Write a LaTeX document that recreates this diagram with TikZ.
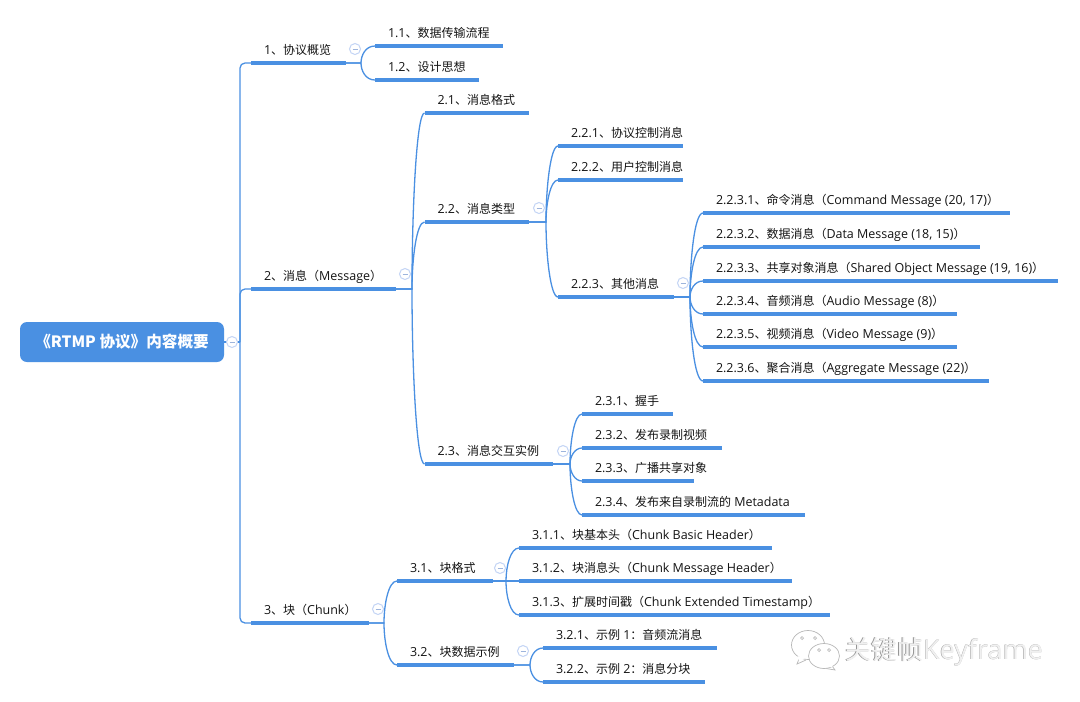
\documentclass[tikz,border=0pt]{standalone}
\usepackage{fontspec}
\setmainfont{Open Sans}[Scale=1.04]
\newfontfamily\cjkfam{Noto Sans CJK SC}
\newcommand{\zh}[1]{{\cjkfam #1}}
\usetikzlibrary{calc}
\definecolor{mapblue}{HTML}{4A90E2}
\definecolor{foldring}{HTML}{C3D4F5}
\definecolor{foldbar}{HTML}{9DB4DC}
\tikzset{
  x=1pt,y=-1pt,
  topic/.style={anchor=south west,inner xsep=0pt,inner ysep=0pt,outer sep=0pt,text height=9pt,text depth=9pt,font=\fontsize{12}{14}\selectfont,text=black!92},
  bar/.style={draw=mapblue,line width=3.6pt},
  link/.style={draw=mapblue,line width=1.3pt},
  fold/.style={circle,draw=foldring,line width=1pt,fill=white,minimum size=11pt,inner sep=0pt,
    path picture={\draw[foldbar,line width=.9pt] ([xshift=-2.5pt]path picture bounding box.center) -- ([xshift=2.5pt]path picture bounding box.center);}},
  rootbox/.style={fill=mapblue,rounded corners=7pt,text=white,font=\fontsize{15.6}{17}\selectfont\bfseries\cjkfam,minimum width=204pt,minimum height=40pt,inner sep=0pt},
  mark emboss/.style={font=\fontsize{26}{30}\selectfont,anchor=base west,inner sep=0pt},
  bubble/.style={draw=black!28,line width=.7pt,fill=white}
}
% name, bar x, bar end x, bar y, text
\newcommand{\topic}[5]{%
  \pgfmathsetmacro{\topicw}{#3-#2}%
  \node[topic] (#1) at (#2,#4) {\makebox[\topicw pt][l]{\hspace{13pt}#5}};
  \draw[bar] (#1.south west) -- (#1.south east);}
% parent, child, junction x
\newcommand{\conn}[3]{%
  \draw[link] (#1.south east) -- (#3,0 |- #1.south east) coordinate (J)
    .. controls ($(J)!0.45!(J |- #2.south west)$) and ([xshift=4.5pt]J |- #2.south west) .. (#2.south west);}
\begin{document}
\begin{tikzpicture}
\fill[white] (0,0) rectangle (1080,702);
\useasboundingbox (0,0) rectangle (1080,702);

\node[rootbox] (root) at (122,342) {《RTMP 协议》内容概要};

\topic{a}{251}{346}{63}{1\zh{、协议概览}}
\topic{b}{251}{396}{289}{2\zh{、消息（}Message\zh{）}}
\topic{c}{251}{369}{623}{3\zh{、块（}Chunk\zh{）}}

\topic{aa}{375}{503}{46}{1.1\zh{、数据传输流程}}
\topic{ab}{375}{479}{80}{1.2\zh{、设计思想}}

\topic{ba}{424.5}{529}{113}{2.1\zh{、消息格式}}
\topic{bb}{424.5}{529}{222}{2.2\zh{、消息类型}}
\topic{bc}{424.5}{553}{464}{2.3\zh{、消息交互实例}}

\topic{bba}{558}{683}{146}{2.2.1\zh{、协议控制消息}}
\topic{bbb}{558}{683}{180}{2.2.2\zh{、用户控制消息}}
\topic{bbc}{558}{674}{297}{2.2.3\zh{、其他消息}}

\topic{bbca}{703}{1010}{213}{2.2.3.1\zh{、命令消息（}Command Message (20, 17)\zh{）}}
\topic{bbcb}{703}{980}{247}{2.2.3.2\zh{、数据消息（}Data Message (18, 15)\zh{）}}
\topic{bbcc}{703}{1058}{281}{2.2.3.3\zh{、共享对象消息（}Shared Object Message (19, 16)\zh{）}}
\topic{bbcd}{703}{957}{314}{2.2.3.4\zh{、音频消息（}Audio Message (8)\zh{）}}
\topic{bbce}{703}{957}{347}{2.2.3.5\zh{、视频消息（}Video Message (9)\zh{）}}
\topic{bbcf}{703}{989}{381}{2.2.3.6\zh{、聚合消息（}Aggregate Message (22)\zh{）}}

\topic{bca}{582}{673}{414}{2.3.1\zh{、握手}}
\topic{bcb}{582}{722}{448}{2.3.2\zh{、发布录制视频}}
\topic{bcc}{582}{694}{481}{2.3.3\zh{、广播共享对象}}
\topic{bcd}{582}{805}{515}{2.3.4\zh{、发布来自录制流的}\ Metadata}

\topic{ca}{397}{493}{581}{3.1\zh{、块格式}}
\topic{cb}{397}{514}{665}{3.2\zh{、块数据示例}}

\topic{caa}{519}{772}{548}{3.1.1\zh{、块基本头（}Chunk Basic Header\zh{）}}
\topic{cab}{519}{792}{581}{3.1.2\zh{、块消息头（}Chunk Message Header\zh{）}}
\topic{cac}{519}{830}{615}{3.1.3\zh{、扩展时间戳（}Chunk Extended Timestamp\zh{）}}

\topic{cba}{543}{717}{648}{3.2.1\zh{、示例}\ 1\zh{：音频流消息}}
\topic{cbb}{543}{705}{682}{3.2.2\zh{、示例}\ 2\zh{：消息分块}}

% trunk
\draw[link] (root.east) -- (240,342);
\draw[link,rounded corners=5pt] (240,342) |- (a.south west);
\draw[link,rounded corners=5pt] (240,342) |- (b.south west);
\draw[link,rounded corners=5pt] (240,342) |- (c.south west);

\conn{a}{aa}{361}\conn{a}{ab}{361}
\conn{b}{ba}{412}\conn{b}{bb}{412}\conn{b}{bc}{412}
\conn{bb}{bba}{546}\conn{bb}{bbb}{546}\conn{bb}{bbc}{546}
\conn{bbc}{bbca}{690}\conn{bbc}{bbcb}{690}\conn{bbc}{bbcc}{690}
\conn{bbc}{bbcd}{690}\conn{bbc}{bbce}{690}\conn{bbc}{bbcf}{690}
\conn{bc}{bca}{570}\conn{bc}{bcb}{570}\conn{bc}{bcc}{570}\conn{bc}{bcd}{570}
\conn{c}{ca}{384}\conn{c}{cb}{384}
\conn{ca}{caa}{506}\conn{ca}{cab}{506}\conn{ca}{cac}{506}
\conn{cb}{cba}{530}\conn{cb}{cbb}{530}

% fold markers
\node[fold] (froot) at (232,342) {};
\node[fold] (fa) at (355,49) {};
\node[fold] (fb) at (405,274) {};
\node[fold] (fc) at (378,609) {};
\node[fold] (fbb) at (539,208) {};
\node[fold] (fbbc) at (683,283) {};
\node[fold] (fbc) at (563,451) {};
\node[fold] (fca) at (500,568) {};
\node[fold] (fcb) at (523,651) {};

% watermark
\draw[bubble] (799,659) -- (797,664) -- (806,660);
\draw[bubble] (808,645) ellipse (16.5 and 14.5);
\fill[white] (797.5,656) -- (799,661) -- (805,658) -- cycle;
\draw[bubble] (832,666) -- (835,670) -- (826,668.5);
\draw[bubble] (824,656) ellipse (15.5 and 12.5);
\fill[white] (829,664) -- (833,667) -- (827,667) -- cycle;
\draw[bubble,fill=none] (802,638) circle (1.5);
\draw[bubble,fill=none] (815,638) circle (1.5);
\draw[bubble,fill=none] (819,650) circle (1.5);
\draw[bubble,fill=none] (829,650) circle (1.5);
\node[mark emboss,text=black!42] (wmshade) at (844.6,659.6) {\zh{关键帧}Keyframe};
\node[mark emboss,text=black!6] (wm) at (845,659) {\zh{关键帧}Keyframe};
\end{tikzpicture}
\end{document}
